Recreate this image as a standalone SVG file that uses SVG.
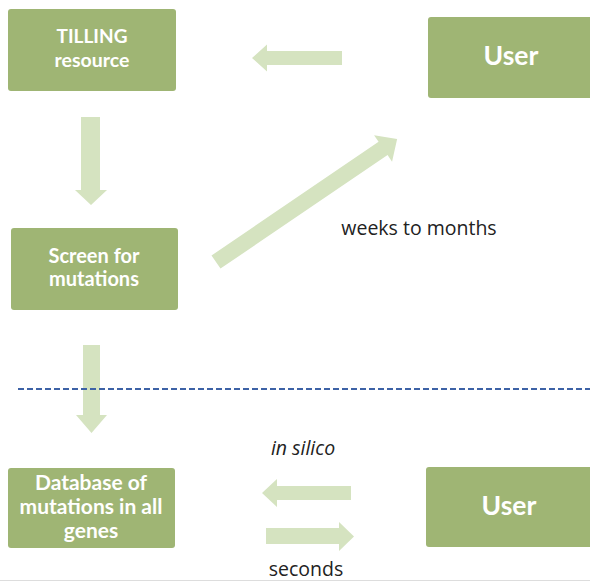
<svg xmlns="http://www.w3.org/2000/svg" width="590" height="582" viewBox="0 0 590 582">
<style>
.box{fill:#9fb574;}
.bt{fill:#ffffff;font-family:Lato,"Open Sans",sans-serif;font-weight:bold;text-anchor:middle;}
.arr{fill:#d5e3c0;}
.lbl{fill:#222222;font-family:"Open Sans",Lato,sans-serif;font-size:19.5px;text-anchor:middle;}
</style>
<rect x="0" y="0" width="590" height="582" fill="#ffffff"/>
<line x1="0" y1="580.5" x2="590" y2="580.5" stroke="#dddddd" stroke-width="1"/>
<g id="connectors">
  <polygon class="arr" points="252,58 267,44.5 267,51 342,51 342,65 267,65 267,71.5"/>
  <polygon class="arr" points="81,117 100,117 100,190 107,190 91,205 75,190 81,190"/>
  <g transform="translate(216,262) rotate(-34.2)">
    <polygon class="arr" points="0,-8 202,-8 202,-16 219,0 202,16 202,8 0,8"/>
  </g>
  <polygon class="arr" points="83,345 100,345 100,415 107,415 91.5,433 76,415 83,415"/>
  <polygon class="arr" points="262,493 277,479 277,486 351,486 351,500 277,500 277,507"/>
  <polygon class="arr" points="266,528 339,528 339,522 354,536.5 339,551 339,544 266,544"/>
</g>
<line id="divider" x1="18" y1="389" x2="590" y2="389" stroke="#3d62a6" stroke-width="2" stroke-dasharray="6,3"/>
<g id="tilling">
  <rect class="box" x="8" y="9" width="168" height="82" rx="3"/>
  <text class="bt" x="92" y="43" font-size="19">TILLING</text>
  <text class="bt" x="92" y="67" font-size="19.5">resource</text>
</g>
<g id="user-top">
  <rect class="box" x="428" y="17" width="170" height="81" rx="3"/>
  <text class="bt" x="511" y="65" font-size="26.5">User</text>
</g>
<g id="screen">
  <rect class="box" x="11" y="228" width="167" height="82" rx="3"/>
  <text class="bt" x="94" y="263" font-size="20">Screen for</text>
  <text class="bt" x="94" y="286" font-size="20">mutations</text>
</g>
<g id="database">
  <rect class="box" x="8" y="468" width="167" height="80" rx="3"/>
  <text class="bt" x="91" y="490" font-size="21">Database of</text>
  <text class="bt" x="91" y="514" font-size="21">mutations in all</text>
  <text class="bt" x="91" y="538" font-size="21">genes</text>
</g>
<g id="user-bottom">
  <rect class="box" x="426" y="467" width="170" height="80" rx="3"/>
  <text class="bt" x="509" y="515" font-size="26.5">User</text>
</g>
<text class="lbl" x="419" y="235">weeks to months</text>
<text class="lbl" x="303" y="455" font-style="italic">in silico</text>
<text class="lbl" x="306" y="576" font-size="19px">seconds</text>
</svg>
